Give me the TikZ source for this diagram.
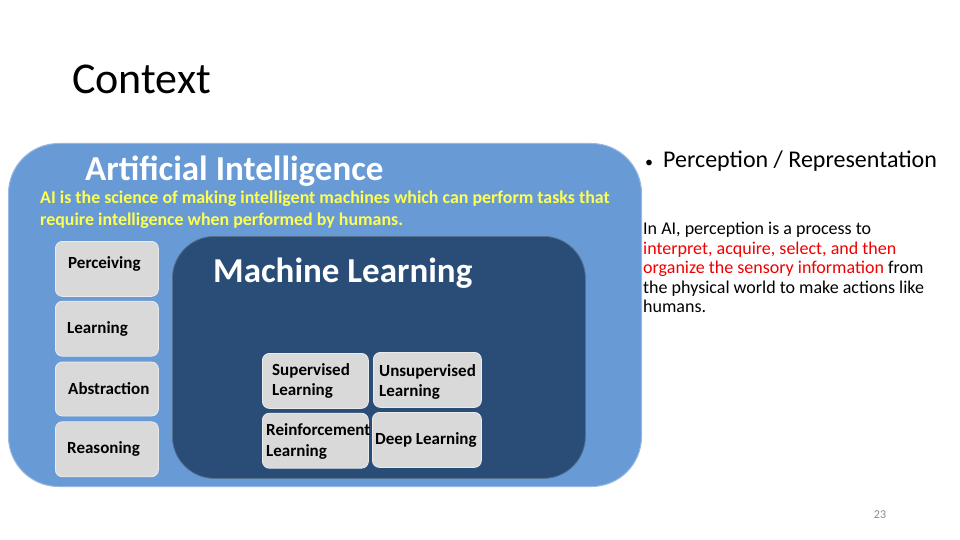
\documentclass[tikz,border=0pt]{standalone}
\usepackage{fontspec}
\setmainfont{Carlito}
\usetikzlibrary{positioning}
\definecolor{aifill}{RGB}{104,154,213}
\definecolor{aiedge}{RGB}{150,185,225}
\definecolor{mlfill}{RGB}{42,77,119}
\definecolor{boxg}{RGB}{217,217,217}
\definecolor{boxe}{RGB}{235,235,235}
\definecolor{aiyel}{RGB}{255,255,80}
\definecolor{hotred}{RGB}{240,0,0}
\definecolor{pgnum}{RGB}{137,137,137}
\tikzset{
  px/.style={font=\fontsize{#1}{#1}\selectfont},
  aibox/.style={rectangle,rounded corners=50pt,draw=aiedge,line width=1pt,fill=aifill},
  mlbox/.style={rectangle,rounded corners=42pt,draw=mlfill!80!white,line width=0.8pt,fill=mlfill},
  skill/.style={rectangle,rounded corners=7pt,draw=boxe,line width=0.8pt,fill=boxg,
    minimum width=103pt,minimum height=#1,inner sep=0pt},
  skill/.default=55pt,
  mltype/.style={rectangle,rounded corners=7pt,draw=boxe,line width=0.8pt,fill=boxg,
    minimum width=106pt,minimum height=55pt,inner sep=0pt},
  lbl/.style={anchor=west,align=left,inner sep=0pt,font=\fontsize{17}{20.5}\selectfont\bfseries},
}
\begin{document}
\begin{tikzpicture}[x=1pt,y=-1pt]
    \useasboundingbox[fill=white] (0,0) rectangle (960,540);

    % Slide title
    \node[anchor=west,inner sep=0pt,px=44] (title) at (72,79) {Context};

    % Artificial intelligence frame
    \node[aibox,minimum width=633pt,minimum height=343pt,anchor=north west] (ai) at (8,143) {};
    \node[anchor=west,inner sep=0pt,text=white,font=\fontsize{35}{40}\selectfont\bfseries] (aititle)
      at (85,171) {Artificial Intelligence};
    \node[anchor=north west,align=left,inner sep=0pt,text=aiyel,
      font=\fontsize{17.9}{21.5}\selectfont\bfseries] (aidef) at (40,191)
      {AI is the science of making intelligent machines which can perform tasks that\\
       require intelligence when performed by humans.};

    % Left column
    \node[skill=55pt,anchor=north west] (perc) at (55,241) {};
    \node[skill=55pt,below=4pt of perc] (lrn) {};
    \node[skill=54pt,below=5pt of lrn] (abst) {};
    \node[skill=55pt,below=5pt of abst] (reas) {};
    \node[lbl] at ([xshift=13pt,yshift=5pt]perc.west) {Perceiving};
    \node[lbl] at ([xshift=12pt]lrn.west) {Learning};
    \node[lbl] at ([xshift=13pt]abst.west) {Abstraction};
    \node[lbl] at ([xshift=12pt]reas.west) {Reasoning};

    % Machine learning frame
    \node[mlbox,minimum width=413pt,minimum height=242pt,anchor=north west] (ml) at (172,236) {};
    \node[anchor=west,inner sep=0pt,text=white,font=\fontsize{35}{40}\selectfont\bfseries] (mltitle)
      at (213,273) {Machine Learning};

    \node[mltype,anchor=north west] (sup) at (262,353) {};
    \node[mltype,minimum width=108pt,anchor=north west] (unsup) at (373,352) {};
    \node[mltype,below=4pt of sup] (rein) {};
    \node[mltype,minimum width=109pt,anchor=north west] (deep) at (372,412) {};
    \node[lbl] at ([xshift=10pt]sup.west) {Supervised\\Learning};
    \node[lbl] at ([xshift=6pt,yshift=-2pt]unsup.west) {Unsupervised\\Learning};
    \node[lbl] at ([xshift=4pt,yshift=-1pt]rein.west) {Reinforcement\\Learning};
    \node[lbl] at ([xshift=3pt]deep.west) {Deep Learning};

    % Right hand text
    \node[anchor=west,inner sep=0pt,px=24] (bullet) at (645,161)
      {{\fontsize{16}{16}\selectfont\textbullet}\hspace{10pt}Perception / Representation};
    \node[anchor=north west,align=left,inner sep=0pt,font=\fontsize{18}{19.5}\selectfont] (para)
      at (643,222)
      {In AI, perception is a process to\\
       \textcolor{hotred}{interpret, acquire, select, and then}\\
       \textcolor{hotred}{organize the sensory information} from\\
       the physical world to make actions like\\
       humans.};

    \node[inner sep=0pt,text=pgnum,px=12] (page) at (880,515) {23};
\end{tikzpicture}
\end{document}
